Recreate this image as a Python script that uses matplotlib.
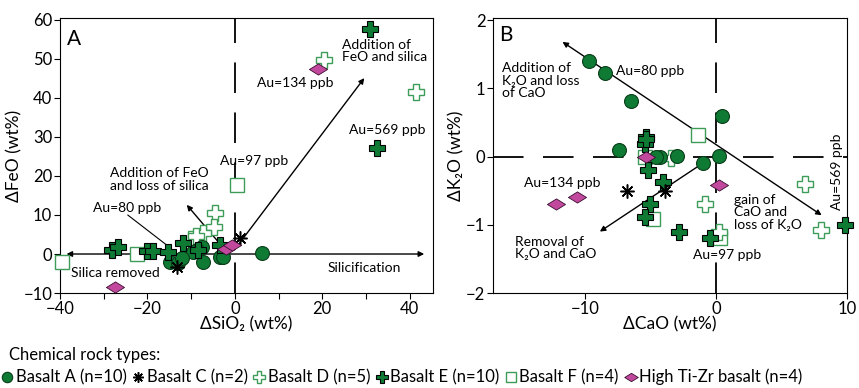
import numpy as np
import matplotlib
matplotlib.use("Agg")
import matplotlib.pyplot as plt
from matplotlib.ticker import MultipleLocator

plt.rcParams['font.family'] = ['Lato', 'DejaVu Sans']
plt.rcParams['font.size'] = 10
plt.rcParams['lines.scale_dashes'] = False

# ---- panel A: dSiO2 vs dFeO (wt%) ----
a_basA_x = [6.3, -14.9, -13.1, -7.6, -7.3, -3.5, -2.8, -8.7, -9.5, -12.0]
a_basA_y = [0.2, -2.1, -2.3, 1.8, -2.1, -0.8, -0.8, 1.0, 0.5, -1.0]
a_basC_x = [1.1, -13.3]
a_basC_y = [4.1, -3.3]
a_basD_x = [20.5, 41.5, -4.6, -4.8, -7.3, -9.0]
a_basD_y = [49.7, 41.5, 10.5, 7.0, 5.4, 4.5]
a_basE_x = [30.8, 32.4, -28.1, -26.8, -20.1, -18.8, -15.3, -11.9, -8.5, -3.5]
a_basE_y = [57.7, 27.2, 1.0, 1.8, 0.8, 0.8, 0.5, 2.8, 1.0, 2.3]
a_basF_x = [0.6, -22.4, -39.5, -9.2]
a_basF_y = [17.7, 0.0, -2.0, 4.1]
a_tizr_x = [19.1, -27.4, -2.0, -0.6]
a_tizr_y = [47.4, -8.5, 1.2, 2.2]

# ---- panel B: dCaO vs dK2O (wt%) ----
b_basA_x = [-9.67, -8.47, -6.44, 0.43, -7.38, -4.27, -2.95, -0.97, 0.23, -4.6]
b_basA_y = [1.40, 1.22, 0.82, 0.60, 0.10, 0.00, 0.01, -0.09, 0.01, 0.0]
b_basC_x = [-6.8, -3.9]
b_basC_y = [-0.51, -0.51]
b_basD_x = [6.8, 8.0, -0.84, 0.25, -3.4]
b_basD_y = [-0.40, -1.08, -0.70, -1.10, -0.02]
b_basE_x = [-5.3, -5.4, -5.2, -4.0, -5.0, -5.4, -2.8, -0.45, 9.85, -5.3]
b_basE_y = [0.28, 0.18, -0.20, -0.38, -0.70, -0.89, -1.10, -1.20, -1.00, 0.25]
b_basF_x = [-1.35, -4.78, 0.3, -5.4]
b_basF_y = [0.31, -0.91, -1.20, 0.0]
b_tizr_x = [-5.3, 0.25, -10.6, -12.2]
b_tizr_y = [0.0, -0.41, -0.60, -0.70]

legend_labels = ["Basalt A (n=10)", "Basalt C (n=2)", "Basalt D (n=5)",
                 "Basalt E (n=10)", "Basalt F (n=4)", "High Ti-Zr basalt (n=4)"]

dkgreen = "#0e7a33"
ltgreen = "#3d9c58"
magenta = "#c2489d"
diamond = [(-1, 0), (0, 0.62), (1, 0), (0, -0.62), (-1, 0)]

styles = [
    dict(marker="o", ms=10, mfc=dkgreen, mec="#0a3d1a", mew=0.8),
    dict(marker=(8, 2, 0), ms=10, mfc="k", mec="k", mew=1.1),
    dict(marker="P", ms=11, mfc="white", mec=ltgreen, mew=1.0),
    dict(marker="P", ms=11, mfc=dkgreen, mec="black", mew=0.8),
    dict(marker="s", ms=10, mfc="white", mec=ltgreen, mew=1.0),
    dict(marker=diamond, ms=13, mfc=magenta, mec="#3a1030", mew=0.6),
]

fig = plt.figure(figsize=(8.59, 3.88), dpi=100)
axA = fig.add_axes([0.0698, 0.2448, 0.4342, 0.7088])
axB = fig.add_axes([0.5739, 0.2448, 0.4121, 0.7088])

dash = (0, (22, 14))
arrow = dict(arrowstyle="-|>", color="k", lw=1, mutation_scale=8, shrinkA=0, shrinkB=0)
arrow2 = dict(arrowstyle="<|-|>", color="k", lw=1, mutation_scale=8, shrinkA=0, shrinkB=0)
line = dict(arrowstyle="-", color="k", lw=0.8, shrinkA=0, shrinkB=0)

# panel A guides
axA.axvline(0, color="k", lw=1.3, ls=dash, zorder=1)
axA.annotate("", xy=(-38.5, 0), xytext=(43.3, 0), arrowprops=arrow2, zorder=1)
axA.annotate("", xy=(29.6, 45.1), xytext=(0.4, 1.8), arrowprops=arrow, zorder=1)
axA.annotate("", xy=(-11, 12.6), xytext=(-2.8, 1.8), arrowprops=arrow, zorder=1)
axA.annotate("", xy=(-15.6, 2.3), xytext=(-24.5, 10), arrowprops=line, zorder=1)

# panel B guides
axB.axvline(0, color="k", lw=1.3, ls=dash, zorder=1)
axB.axhline(0, color="k", lw=1.3, ls=dash, zorder=1)
axB.annotate("", xy=(-11.7, 1.68), xytext=(8.07, -0.86), arrowprops=arrow2, zorder=1)
axB.annotate("", xy=(-8.85, -1.10), xytext=(-0.7, -0.06), arrowprops=arrow, zorder=1)

setsA = [(a_basF_x, a_basF_y, 4), (a_basD_x, a_basD_y, 2), (a_basA_x, a_basA_y, 0),
         (a_basE_x, a_basE_y, 3), (a_basC_x, a_basC_y, 1), (a_tizr_x, a_tizr_y, 5)]
setsB = [(b_basF_x, b_basF_y, 4), (b_basD_x, b_basD_y, 2), (b_basA_x, b_basA_y, 0),
         (b_basE_x, b_basE_y, 3), (b_basC_x, b_basC_y, 1), (b_tizr_x, b_tizr_y, 5)]
for ax, sets in [(axA, setsA), (axB, setsB)]:
    for x, y, k in sets:
        ax.plot(x, y, ls="none", zorder=3, clip_on=False, **styles[k])

# panel A labels
axA.text(-38.3, 53.5, "A", fontsize=15)
axA.text(24.6, 52, "Addition of\nFeO and silica", va="center", linespacing=1.05)
axA.text(5, 43.8, "Au=134 ppb", va="center")
axA.text(26.2, 31.8, "Au=569 ppb", va="center")
axA.text(-3.5, 23.8, "Au=97 ppb", va="center")
axA.text(-28.6, 19.1, "Addition of FeO\nand loss of silica", va="center", linespacing=1.05)
axA.text(-32.5, 11.8, "Au=80 ppb", va="center")
axA.text(-37.5, -4.9, "Silica removed", va="center")
axA.text(21.2, -3.6, "Silicification", va="center")

# panel B labels
axB.text(-16.5, 1.7, "B", fontsize=15)
axB.text(-16.35, 1.11, "Addition of\nK\u2082O and loss\nof CaO", va="center", linespacing=1.05)
axB.text(-7.6, 1.25, "Au=80 ppb", va="center")
axB.text(-14.6, -0.39, "Au=134 ppb", va="center")
axB.text(-15.3, -1.34, "Removal of\nK\u2082O and CaO", va="center", linespacing=1.05)
axB.text(1.37, -0.82, "gain of\nCaO and\nloss of K\u2082O", va="center", linespacing=1.05)
axB.text(-1.75, -1.45, "Au=97 ppb", va="center")
axB.text(9.24, -0.23, "Au=569 ppb", va="center", ha="center", rotation=90)

axA.set_xlim(-40, 45.3)
axA.set_ylim(-10, 60.5)
axA.xaxis.set_major_locator(MultipleLocator(20))
axA.xaxis.set_minor_locator(MultipleLocator(10))
axA.yaxis.set_major_locator(MultipleLocator(10))
axA.set_xlabel("\u0394SiO\u2082 (wt%)", labelpad=0, fontsize=12.5)
axA.set_ylabel("\u0394FeO (wt%)", labelpad=1, fontsize=12.5)

axB.set_xlim(-17, 10)
axB.set_ylim(-2, 2.03)
axB.set_xticks([-10, 0, 10])
axB.set_yticks([-2, -1, 0, 1, 2])
axB.set_xlabel("\u0394CaO (wt%)", labelpad=0, fontsize=12.5)
axB.set_ylabel("\u0394K\u2082O (wt%)", labelpad=1, fontsize=12.5)

for ax in (axA, axB):
    ax.tick_params(which="both", direction="out", length=4, width=0.8, labelsize=12, pad=1.5)
    for s in ax.spines.values():
        s.set_linewidth(0.8)

fig.text(0.010, 0.085, "Chemical rock types:", va="center", fontsize=12)
handles = [plt.Line2D([], [], ls="none", **dict(styles[k], ms=styles[k]["ms"] * 0.75))
           for k in range(6)]
fig.legend(handles, legend_labels, ncol=6, loc="center left", bbox_to_anchor=(0.0, 0.028),
           frameon=False, handlelength=0.7, handletextpad=0.15, columnspacing=0.35,
           borderaxespad=0, borderpad=0.1, fontsize=12)

fig.savefig("out.png", dpi=100)
